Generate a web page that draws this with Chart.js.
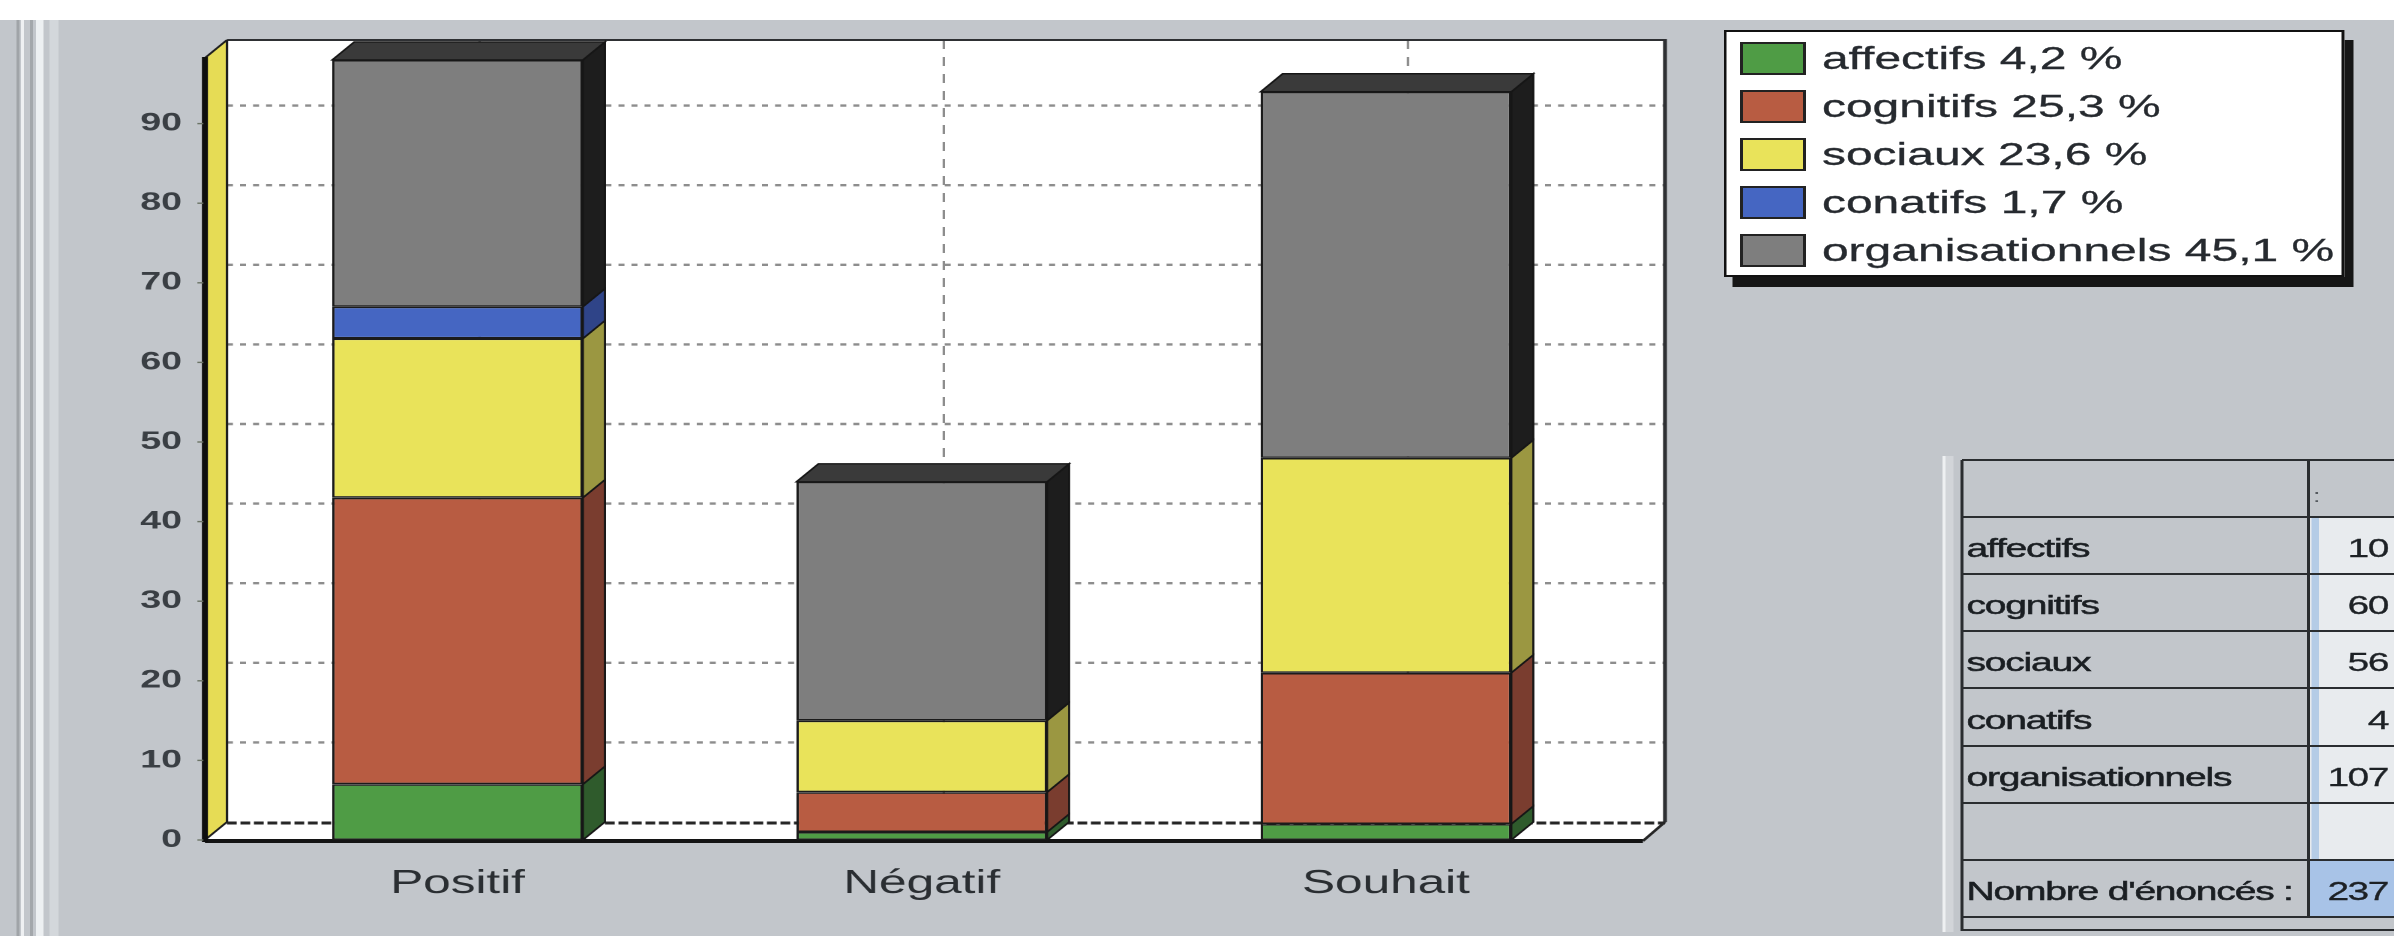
<!DOCTYPE html>
<html lang="fr">
<head>
<meta charset="utf-8">
<title>Énoncés par catégorie</title>
<script src="https://cdn.jsdelivr.net/npm/chart.js@4.4.1/dist/chart.umd.min.js"></script>
<style>
  html, body { margin: 0; padding: 0; }
  body {
    width: 2394px; height: 936px; overflow: hidden;
    background: #c2c6cb;
    font-family: 'Liberation Sans', Arial, sans-serif;
  }
  /* the whole sheet is laid out at 1596px and widened 1.5x */
  #stage {
    position: absolute; left: 0; top: 0;
    width: 1596px; height: 936px;
    transform: scaleX(1.5); transform-origin: 0 0;
  }
  #topband { position: absolute; left: 0; top: 0; width: 1596px; height: 20px; background: #ffffff; }
  .rule { position: absolute; top: 20px; bottom: 0; }
  #chart { position: absolute; left: 0; top: 0; }

  #legend {
    position: absolute; left: 1149.3px; top: 30px;
    width: 413.3px; height: 247px; box-sizing: border-box;
    background: #ffffff; border: 2px solid #111111;
    box-shadow: 6px 10px 0 #161616;
  }
  .lg-row {
    position: absolute; left: 0; height: 33px; width: 100%;
  }
  .lg-swatch {
    position: absolute; left: 8.7px; top: 0; width: 44px; height: 33px;
    box-sizing: border-box; border: 2px solid #222222;
  }
  .lg-text {
    position: absolute; left: 63.3px; top: 0; height: 33px; line-height: 33px;
    font-size: 32px; color: #262a2f; white-space: nowrap;
    -webkit-text-stroke: 0.3px #262a2f;
  }

  .tb { position: absolute; }
  .tb-label {
    position: absolute; left: 1311px; font-size: 26px; letter-spacing: -0.8px;
    color: #1a1e22; white-space: nowrap;
    -webkit-text-stroke: 0.5px #1a1e22;
  }
  .tb-value {
    position: absolute; right: 4px; font-size: 26px; letter-spacing: -1px;
    color: #1d2125; text-align: right; white-space: nowrap;
    -webkit-text-stroke: 0.3px #1d2125;
  }
</style>
</head>
<body>
<div id="stage">
  <div id="topband"></div>
  <div class="rule" style="left:10.7px;width:2px;background:#a0a4a8"></div>
  <div class="rule" style="left:14px;width:2px;background:#eef0f2"></div>
  <div class="rule" style="left:20px;width:2px;background:#a3a7ab"></div>
  <div class="rule" style="left:24px;width:5.3px;background:#edf0f2"></div>
  <div class="rule" style="left:33.3px;width:5.3px;background:#d3d7db"></div>
  <canvas id="chart" width="1596" height="936"></canvas>
  <div id="legend"></div>
  <div id="table"></div>
</div>
<script>
// Énoncés par catégorie et par orientation
const categories = ['Positif', 'Négatif', 'Souhait'];
const seriesNames = ['affectifs', 'cognitifs', 'sociaux', 'conatifs', 'organisationnels'];
const affectifs = [7, 1, 2];
const cognitifs = [36, 5, 19];
const sociaux = [20, 9, 27];
const conatifs = [4, 0, 0];
const organisationnels = [31, 30, 46];
const yTicks = [0, 10, 20, 30, 40, 50, 60, 70, 80, 90];
const totalLabel = "Nombre d'énoncés :";

const series = [affectifs, cognitifs, sociaux, conatifs, organisationnels];

// styles
const FONT = "'Liberation Sans', Arial, sans-serif";
const faceColors = ['#4f9c45', '#b85c42', '#e9e35a', '#4566c2', '#7e7e7e'];
const sideColors = ['#2f5b2c', '#7a3d2f', '#9b9741', '#2f4488', '#1d1d1d'];
const topColor = '#3a3a3a';
const DX = 14.7, DY = -18;   // depth of the 3D extrusion

function seg(ctx, x1, y1, x2, y2) {
  ctx.beginPath(); ctx.moveTo(x1, y1); ctx.lineTo(x2, y2); ctx.stroke();
}
function poly(ctx, pts, fill, stroke, lw) {
  ctx.beginPath();
  pts.forEach((p, i) => i ? ctx.lineTo(p[0], p[1]) : ctx.moveTo(p[0], p[1]));
  ctx.closePath();
  if (fill) { ctx.fillStyle = fill; ctx.fill(); }
  if (stroke) { ctx.lineWidth = lw; ctx.strokeStyle = stroke; ctx.stroke(); }
}

// back wall, floor, yellow side wall, then bar sides and tops
const frame3d = {
  id: 'frame3d',
  beforeDatasetsDraw(chart) {
    const { ctx, chartArea: a, scales: { x, y } } = chart;
    const base = y.getPixelForValue(0);
    const xl = a.left - 13.7, xr = a.right + 16.6, top = a.top - 4;
    ctx.save();
    ctx.fillStyle = '#ffffff';
    ctx.fillRect(xl + DX, top, xr - xl, base + DY - top);

    ctx.setLineDash([4, 4.7]); ctx.lineWidth = 2.4; ctx.strokeStyle = '#8d8d8d';
    yTicks.forEach(v => {
      if (v > 0) { const py = y.getPixelForValue(v) + DY; seg(ctx, xl + DX, py, xr + DX, py); }
    });
    ctx.setLineDash([9, 8]); ctx.lineWidth = 1.6;
    categories.forEach((c, i) => {
      const px = x.getPixelForValue(i) + DX; seg(ctx, px, top, px, base + DY);
    });
    ctx.setLineDash([]);

    ctx.strokeStyle = '#2e3033'; ctx.lineWidth = 2;
    seg(ctx, xl + DX, top, xr + DX, top);
    ctx.lineWidth = 2.6;
    seg(ctx, xr + DX, top - 1, xr + DX, base + DY);

    poly(ctx, [[xl, base], [xr, base], [xr + DX, base + DY], [xl + DX, base + DY]], '#ffffff');
    ctx.setLineDash([6.5, 2.5]); ctx.lineWidth = 3; ctx.strokeStyle = '#262626';
    seg(ctx, xl + DX, base + DY + 1, xr + DX, base + DY + 1);
    ctx.setLineDash([]);
    ctx.lineWidth = 2.2; seg(ctx, xr, base + 1, xr + DX, base + DY);
    ctx.lineWidth = 4; ctx.strokeStyle = '#141414';
    seg(ctx, xl, base + 1, xr, base + 1);

    poly(ctx, [[xl, top - DY], [xl + DX, top], [xl + DX, base + DY], [xl, base]], '#e6dc55');
    ctx.strokeStyle = '#1e1e1e'; ctx.lineWidth = 1.6;
    seg(ctx, xl, top - DY, xl + DX, top);
    seg(ctx, xl + DX, top, xl + DX, base + DY);
    seg(ctx, xl, base, xl + DX, base + DY);
    ctx.lineWidth = 4; ctx.strokeStyle = '#0e0e0e';
    seg(ctx, xl, top - DY - 1, xl, base + 2);

    ctx.lineWidth = 1.4; ctx.strokeStyle = '#6b7466';
    yTicks.forEach(v => { const py = y.getPixelForValue(v); seg(ctx, xl - 5, py, xl - 1, py); });
    ctx.restore();
  },
  afterDatasetsDraw(chart) {
    const { ctx } = chart;
    const topIdx = new Array(chart.data.labels.length).fill(-1);
    ctx.save();
    chart.data.datasets.forEach((ds, di) => {
      chart.getDatasetMeta(di).data.forEach((bar, i) => {
        const v = ds.data[i];
        if (v == null || v === 0) return;
        const { x, y, base, width } = bar.getProps(['x', 'y', 'base', 'width'], true);
        const r = x + width / 2, t = Math.min(y, base), b = Math.max(y, base);
        poly(ctx, [[r, t], [r + DX, t + DY], [r + DX, b + DY], [r, b]], sideColors[di], '#161616', 1.4);
        topIdx[i] = di;
      });
    });
    topIdx.forEach((di, i) => {
      if (di < 0) return;
      const bar = chart.getDatasetMeta(di).data[i];
      const { x, y, width } = bar.getProps(['x', 'y', 'width'], true);
      const l = x - width / 2, r = x + width / 2;
      poly(ctx, [[l, y], [l + DX, y + DY], [r + DX, y + DY], [r, y]], topColor, '#161616', 1.4);
    });
    ctx.restore();
  }
};

new Chart(document.getElementById('chart'), {
  type: 'bar',
  data: {
    labels: categories,
    datasets: series.map((vals, i) => ({
      label: seriesNames[i],
      data: vals.map(v => (v === 0 ? null : v)),
      backgroundColor: faceColors[i],
      borderColor: '#1b1b1b',
      borderWidth: 1.6,
      borderSkipped: false,
      categoryPercentage: 1,
      barPercentage: 0.54
    }))
  },
  options: {
    responsive: false,
    animation: false,
    devicePixelRatio: 2,
    layout: { padding: { left: 0, right: 517.3, top: 42, bottom: 0 } },
    plugins: { legend: { display: false }, tooltip: { enabled: false } },
    scales: {
      x: {
        stacked: true,
        grid: { display: false, drawTicks: false },
        border: { display: false },
        ticks: { color: '#2a2e32', font: { family: FONT, size: 33 }, padding: 24 },
        afterFit: s => { s.height = 96; }
      },
      y: {
        stacked: true, min: 0, max: 100,
        grid: { display: false, drawTicks: false },
        border: { display: false },
        afterBuildTicks: s => { s.ticks = yTicks.map(v => ({ value: v })); },
        ticks: { color: '#3a3f44', font: { family: FONT, size: 25, weight: 'bold' }, padding: 29 },
        afterFit: s => { s.width = 150.3; }
      }
    }
  },
  plugins: [frame3d]
});

// legend with each family's share of all statements
const totals = series.map(s => s.reduce((a, b) => a + b, 0));
const grandTotal = totals.reduce((a, b) => a + b, 0);
const pct = v => (v / grandTotal * 100).toFixed(1).replace('.', ',') + ' %';

const legend = document.getElementById('legend');
seriesNames.forEach((name, i) => {
  const row = document.createElement('div');
  row.className = 'lg-row';
  row.style.top = (10 + i * 48) + 'px';
  const sw = document.createElement('div');
  sw.className = 'lg-swatch';
  sw.style.background = faceColors[i];
  const tx = document.createElement('div');
  tx.className = 'lg-text';
  tx.textContent = name + ' ' + pct(totals[i]);
  row.appendChild(sw); row.appendChild(tx);
  legend.appendChild(row);
});

// counts table
const table = document.getElementById('table');
function box(l, t, w, h, bg) {
  const d = document.createElement('div');
  d.className = 'tb';
  Object.assign(d.style, { left: l + 'px', top: t + 'px', width: w + 'px', height: h + 'px', background: bg });
  table.appendChild(d);
  return d;
}
const rowTops = [460, 517, 574, 631, 688, 746, 803, 860, 917];
const rowLabels = [''].concat(seriesNames, [''], [totalLabel]);
const rowValues = [''].concat(totals.map(String), [''], [String(grandTotal)]);

box(1294.7, 456, 2.7, 476, '#eef0f2');
box(1297.4, 456, 4.6, 476, '#d2d5d9');
for (let r = 0; r < rowLabels.length; r++) {
  const t = rowTops[r], h = rowTops[r + 1] - t;
  if (r > 0 && r < rowLabels.length - 1) {
    box(1540, t, 56, h, '#e8ebee');
    box(1541, t, 5, h, '#b5cce6');
  } else if (r === rowLabels.length - 1) {
    box(1540, t, 56, h, '#a8c3e7');
  }
  if (rowLabels[r]) {
    const lb = document.createElement('div');
    lb.className = 'tb-label';
    lb.style.top = t + 'px'; lb.style.height = h + 'px'; lb.style.lineHeight = (h + 6) + 'px';
    lb.textContent = rowLabels[r];
    table.appendChild(lb);
  }
  if (rowValues[r]) {
    const vb = box(1540, t, 52, h, 'transparent');
    vb.className = 'tb-value';
    vb.style.left = 'auto';
    vb.style.lineHeight = (h + 6) + 'px';
    vb.textContent = rowValues[r];
  }
}
const mark = box(1542, 485, 6, 22, 'transparent');
mark.textContent = ':';
Object.assign(mark.style, { fontSize: '18px', color: '#555a5f', lineHeight: '22px' });
rowTops.forEach(t => box(1308, t - 1, 288, 2, '#2a2d30'));
box(1308, 929, 288, 2, '#2a2d30');
box(1307, 460, 2, 471, '#2a2d30');
box(1538, 460, 2, 458, '#2a2d30');
</script>
</body>
</html>
